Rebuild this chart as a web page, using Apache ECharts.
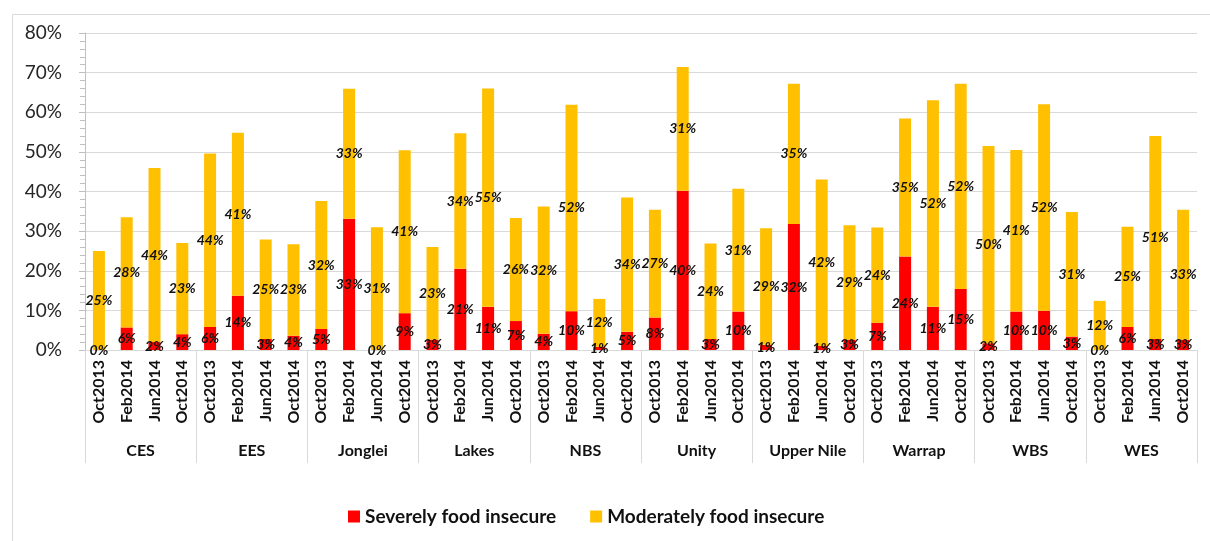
<!DOCTYPE html>
<html>
<head>
<meta charset="utf-8">
<title>Food insecurity by state</title>
<script src="https://cdn.jsdelivr.net/npm/echarts@6/dist/echarts.min.js"></script>
<style>
  html, body { margin: 0; padding: 0; background: #ffffff; }
  #chart { width: 1210px; height: 541px; }
</style>
</head>
<body>
<div id="chart"></div>
<script>
// States (outer axis level) and survey rounds (inner level)
const states = ['CES', 'EES', 'Jonglei', 'Lakes', 'NBS', 'Unity', 'Upper Nile', 'Warrap', 'WBS', 'WES'];
const rounds = ['Oct2013', 'Feb2014', 'Jun2014', 'Oct2014'];

// Share of households, in percent, listed state by state, round by round
const severe = [
  0, 5.7, 2.0, 4.0,
  5.8, 13.7, 2.8, 3.6,
  5.3, 33.1, 0, 9.3,
  2.6, 20.5, 10.9, 7.3,
  4.1, 9.8, 0.8, 4.6,
  8.2, 40.2, 2.8, 9.7,
  1.3, 31.8, 1.0, 2.6,
  6.9, 23.6, 10.9, 15.4,
  1.7, 9.7, 9.9, 3.4,
  0, 5.8, 2.8, 2.6
];
const moderate = [
  25.0, 27.8, 43.9, 23.0,
  43.8, 41.1, 25.1, 23.1,
  32.3, 32.8, 31.0, 41.1,
  23.4, 34.2, 55.1, 26.0,
  32.1, 52.1, 12.1, 33.9,
  27.2, 31.2, 24.1, 31.0,
  29.4, 35.4, 42.0, 28.9,
  24.0, 34.8, 52.1, 51.8,
  49.8, 40.8, 52.1, 31.4,
  12.4, 25.3, 51.2, 32.8
];
const yTicks = [0, 10, 20, 30, 40, 50, 60, 70, 80];
const seriesNames = ['Severely food insecure', 'Moderately food insecure'];

const innerCats = [];
states.forEach(() => rounds.forEach(r => innerCats.push(r)));

const FONT = 'Lato, "Open Sans", sans-serif';
const pct = p => Math.round(p.value) + '%';

const labelStyle = {
  show: true,
  position: 'inside',
  formatter: pct,
  color: '#111111',
  fontFamily: FONT,
  fontWeight: 'bold',
  fontStyle: 'italic',
  fontSize: 14
};

const legendText = { fontFamily: FONT, fontWeight: 'bold', fontSize: 19, color: '#111111' };

const chart = echarts.init(document.getElementById('chart'), null, { renderer: 'canvas' });

chart.setOption({
  animation: false,
  backgroundColor: '#ffffff',
  graphic: [{
    type: 'rect',
    left: 10, top: 12,
    shape: { x: 0, y: 0, width: 1220, height: 560 },
    style: { fill: 'none', stroke: '#d9d9d9', lineWidth: 1 },
    silent: true
  }],
  grid: {
    left: 85, right: 13, top: 33, bottom: 191,
    containLabel: false,
    outerBoundsMode: 'none'
  },
  legend: {
    left: 343, top: 502,
    icon: 'rect',
    itemWidth: 12, itemHeight: 12,
    itemGap: 34,
    textStyle: legendText,
    data: seriesNames.map(n => ({ name: n, textStyle: legendText }))
  },
  xAxis: [
    {
      type: 'category',
      data: innerCats,
      position: 'bottom',
      axisLine: { show: true, lineStyle: { color: '#d9d9d9', width: 1 } },
      axisTick: { show: false },
      axisLabel: {
        interval: 0, rotate: 90, margin: 10,
        fontFamily: FONT, fontWeight: 'bold', fontSize: 16, color: '#111111'
      }
    },
    {
      type: 'category',
      data: states,
      position: 'bottom',
      axisLine: { show: false },
      axisTick: { show: true, interval: 0, length: 113, lineStyle: { color: '#d9d9d9', width: 1 } },
      axisLabel: {
        interval: 0, margin: 93,
        fontFamily: FONT, fontWeight: 'bold', fontSize: 16, color: '#111111'
      }
    }
  ],
  yAxis: {
    type: 'value',
    min: yTicks[0], max: yTicks[yTicks.length - 1], interval: 10,
    axisLine: { show: true, lineStyle: { color: '#bfbfbf', width: 1 } },
    axisTick: { show: true, length: 6, lineStyle: { color: '#bfbfbf' } },
    minorTick: { show: true, splitNumber: 5, length: 5, lineStyle: { color: '#bfbfbf' } },
    splitLine: { show: true, lineStyle: { color: '#d9d9d9', width: 1 } },
    axisLabel: {
      margin: 23,
      formatter: v => v + '%',
      fontFamily: FONT, fontSize: 19, color: '#262626'
    }
  },
  series: [
    {
      name: seriesNames[0],
      type: 'bar',
      stack: 'total',
      barWidth: 12,
      itemStyle: { color: '#ff0000' },
      label: labelStyle,
      data: severe
    },
    {
      name: seriesNames[1],
      type: 'bar',
      stack: 'total',
      barWidth: 12,
      itemStyle: { color: '#ffc000' },
      label: labelStyle,
      data: moderate
    }
  ]
});
</script>
</body>
</html>
